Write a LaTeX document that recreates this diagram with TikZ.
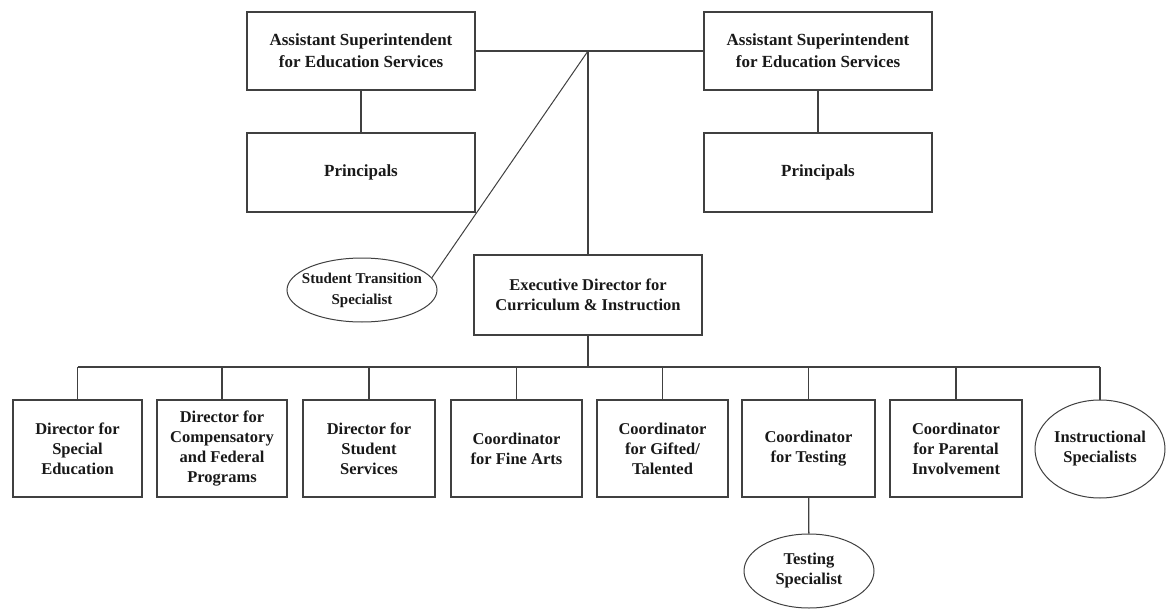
\documentclass[tikz,border=0pt]{standalone}
\usepackage{fontspec}
\setmainfont{Liberation Serif}
\usetikzlibrary{shapes.geometric}
\begin{document}
\begin{tikzpicture}[x=1pt,y=-1pt,
  lnk/.style={draw=black!75,line width=1.3pt},
  post/.style={draw=black!75,line width=1.3pt,fill=white,align=center,
    inner sep=0pt,font=\bfseries\fontsize{16.5}{20}\selectfont,text=black!90},
  topbox/.style={post,minimum width=228pt,minimum height=78pt,
    font=\bfseries\fontsize{17}{22}\selectfont},
  unitbox/.style={post,minimum height=97pt},
  oval/.style={post,ellipse,line width=1pt}]
\useasboundingbox (0,0) rectangle (1173,610);
\fill[white] (0,0) rectangle (1173,610);

% upper level
\node[topbox] (as1) at (361,51) {Assistant Superintendent\\for Education Services};
\node[topbox] (as2) at (818,51) {Assistant Superintendent\\for Education Services};
\node[topbox,minimum height=79pt] (pr1) at (361,172.5) {Principals};
\node[topbox,minimum height=79pt] (pr2) at (818,172.5) {Principals};
\coordinate (j) at (588,51);

\node[post,minimum width=228pt,minimum height=80pt] (ex) at (588,295)
  {Executive Director for\\Curriculum \& Instruction};
\node[oval,inner xsep=-20pt,minimum width=150pt,minimum height=64pt,
  font=\bfseries\fontsize{15}{21}\selectfont] (sts) at (362,290)
  {Student Transition\\Specialist};

% lower level
\coordinate (bus) at (588,367);
\node[unitbox,minimum width=129pt] (b1) at (77.5,448.5) {Director for\\Special\\Education};
\node[unitbox,minimum width=130pt] (b2) at (222,448.5) {Director for\\Compensatory\\and Federal\\Programs};
\node[unitbox,minimum width=132pt] (b3) at (369,448.5) {Director for\\Student\\Services};
\node[unitbox,minimum width=131pt] (b4) at (516.5,448.5) {Coordinator\\for Fine Arts};
\node[unitbox,minimum width=131pt] (b5) at (662.5,448.5) {Coordinator\\for Gifted/\\Talented};
\node[unitbox,minimum width=133pt] (b6) at (808.5,448.5) {Coordinator\\for Testing};
\node[unitbox,minimum width=132pt] (b7) at (956,448.5) {Coordinator\\for Parental\\Involvement};
\node[oval,inner xsep=-4pt,minimum width=130pt,minimum height=98pt] (ie) at (1100,449) {Instructional\\Specialists};
\node[oval,minimum width=130pt,minimum height=74pt] (ts) at (809,571) {Testing\\Specialist};

% connectors
\draw[lnk] (as1) -- (as2);
\draw[lnk] (as1) -- (pr1);
\draw[lnk] (as2) -- (pr2);
\draw[lnk] (j) -- (ex.north);
\draw[lnk,line width=1pt] (j) -- (sts.10);
\draw[lnk] (ex.south) -- (bus);
\draw[lnk] (b1.north |- bus) -- (ie.north |- bus);
\foreach \n in {b1,b2,b3,b4,b5,b6,b7,ie}
  \draw[lnk] (\n.north) -- (\n.north |- bus);
\draw[lnk] (b6) -- (ts);
\end{tikzpicture}
\end{document}
